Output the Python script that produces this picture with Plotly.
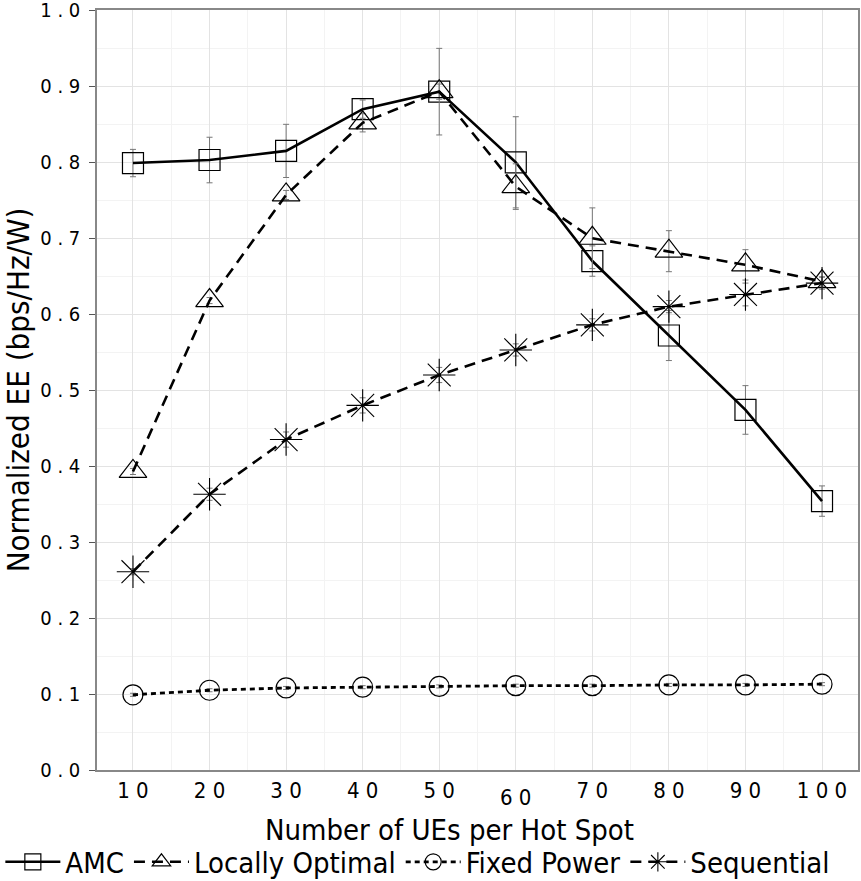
import plotly.graph_objects as go

ues = [10, 20, 30, 40, 50, 60, 70, 80, 90, 100]
x_tick_labels = ["1 0", "2 0", "3 0", "4 0", "5 0", "6 0", "7 0", "8 0", "9 0", "1 0 0"]
y_ticks = [0.0, 0.1, 0.2, 0.3, 0.4, 0.5, 0.6, 0.7, 0.8, 0.9, 1.0]
y_tick_labels = ["0 . 0", "0 . 1", "0 . 2", "0 . 3", "0 . 4", "0 . 5", "0 . 6", "0 . 7", "0 . 8", "0 . 9", "1 . 0"]

amc = [0.799, 0.803, 0.815, 0.870, 0.893, 0.800, 0.670, 0.572, 0.474, 0.354]
amc_err = [0.018, 0.030, 0.035, 0.012, 0.010, 0.060, 0.020, 0.033, 0.032, 0.020]

local_opt = [0.393, 0.618, 0.757, 0.852, 0.893, 0.768, 0.700, 0.683, 0.665, 0.643]
local_opt_err = [0.004, 0.004, 0.006, 0.012, 0.057, 0.030, 0.040, 0.027, 0.020, 0.006]

fixed_power = [0.099, 0.105, 0.108, 0.109, 0.110, 0.111, 0.111, 0.112, 0.112, 0.113]
fixed_power_err = [0.002, 0.002, 0.002, 0.002, 0.002, 0.002, 0.002, 0.002, 0.002, 0.002]

sequential = [0.261, 0.363, 0.435, 0.480, 0.520, 0.553, 0.586, 0.610, 0.626, 0.641]
sequential_err = [0.004, 0.008, 0.010, 0.010, 0.010, 0.008, 0.008, 0.008, 0.015, 0.008]

x_title = "Number of UEs per Hot Spot"
y_title = "Normalized EE (bps/Hz/W)"

FONT = "DejaVu Sans Condensed, DejaVu Sans"
ERR = dict(type="data", visible=True, color="#777777", thickness=1, width=3)

fig = go.Figure()

fig.add_trace(go.Scatter(
    x=ues, y=amc, name="AMC", mode="lines+markers",
    error_y=dict(array=amc_err, **ERR),
    line=dict(color="black", width=2.6, dash="solid"),
    marker=dict(symbol="square-open", size=21, color="black", line=dict(width=1.2, color="black")),
))
fig.add_trace(go.Scatter(
    x=ues, y=local_opt, name="Locally Optimal", mode="lines+markers",
    error_y=dict(array=local_opt_err, **ERR),
    line=dict(color="black", width=2.6, dash="11px,7px"),
    marker=dict(symbol="triangle-up-open", size=24, color="black", line=dict(width=1.2, color="black")),
))
fig.add_trace(go.Scatter(
    x=ues, y=fixed_power, name="Fixed Power", mode="lines+markers",
    error_y=dict(array=fixed_power_err, **ERR),
    line=dict(color="black", width=2.8, dash="5px,4px"),
    marker=dict(symbol="circle-open", size=20, color="black", line=dict(width=1.2, color="black")),
))
fig.add_trace(go.Scatter(
    x=ues, y=sequential, name="Sequential", mode="lines+markers",
    error_y=dict(array=sequential_err, **ERR),
    line=dict(color="black", width=2.6, dash="11px,7px"),
    marker=dict(symbol="asterisk-open", size=27, color="black", line=dict(width=1.1, color="black")),
))

# x tick labels: "60" is drawn slightly lower in the reference
tick_text = [t if v != 60 else "" for v, t in zip(ues, x_tick_labels)]
fig.add_annotation(x=60, y=0, xref="x", yref="paper", yanchor="middle",
                   text=x_tick_labels[ues.index(60)], showarrow=False,
                   yshift=-27, font=dict(family=FONT, size=22, color="black"))

# x axis title (placed slightly left of the plot centre, as in the reference)
fig.add_annotation(x=0.4626, y=0, xref="paper", yref="paper", yanchor="middle",
                   text=x_title, showarrow=False, yshift=-60,
                   font=dict(family=FONT, size=29, color="black"))

fig.update_layout(
    width=861, height=881,
    margin=dict(l=97, r=3, t=10, b=111, autoexpand=False),
    paper_bgcolor="white", plot_bgcolor="white",
    font=dict(family=FONT, size=20, color="black"),
    showlegend=True,
    legend=dict(orientation="h", xref="paper", x=-0.127, xanchor="left",
                y=-0.121, yanchor="middle",
                font=dict(family=FONT, size=29, color="black"),
                itemwidth=55, tracegroupgap=0, bgcolor="rgba(0,0,0,0)"),
    xaxis=dict(
        range=[5.3, 104.7], tickmode="array", tickvals=ues, ticktext=tick_text,
        showgrid=True, gridcolor="#e3e3e3", gridwidth=1,
        minor=dict(dtick=5, tick0=5, showgrid=True, gridcolor="#f3f3f3", gridwidth=1),
        showline=True, linecolor="#888888", linewidth=1.5, mirror=True,
        ticks="", zeroline=False, automargin=False, ticklabelstandoff=0,
        ticklabeloverflow="allow",
        tickfont=dict(family=FONT, size=22, color="black"),
    ),
    yaxis=dict(
        range=[0, 1.0005], tickmode="array", tickvals=y_ticks, ticktext=y_tick_labels,
        showgrid=True, gridcolor="#e3e3e3", gridwidth=1,
        minor=dict(dtick=0.05, tick0=0.05, showgrid=True, gridcolor="#f3f3f3", gridwidth=1),
        showline=True, linecolor="#888888", linewidth=1.5, mirror=True,
        ticks="outside", ticklen=6, tickcolor="#555555", zeroline=False, automargin=False,
        ticklabelstandoff=5, ticklabeloverflow="allow",
        tickfont=dict(family=FONT, size=20, color="black"),
        title=dict(text=y_title, font=dict(family=FONT, size=31, color="black"), standoff=2),
    ),
)

fig.write_html(
    "out.html",
    config={"displayModeBar": False},
    post_script="document.body.style.margin='0px';document.documentElement.style.overflow='hidden';",
)
